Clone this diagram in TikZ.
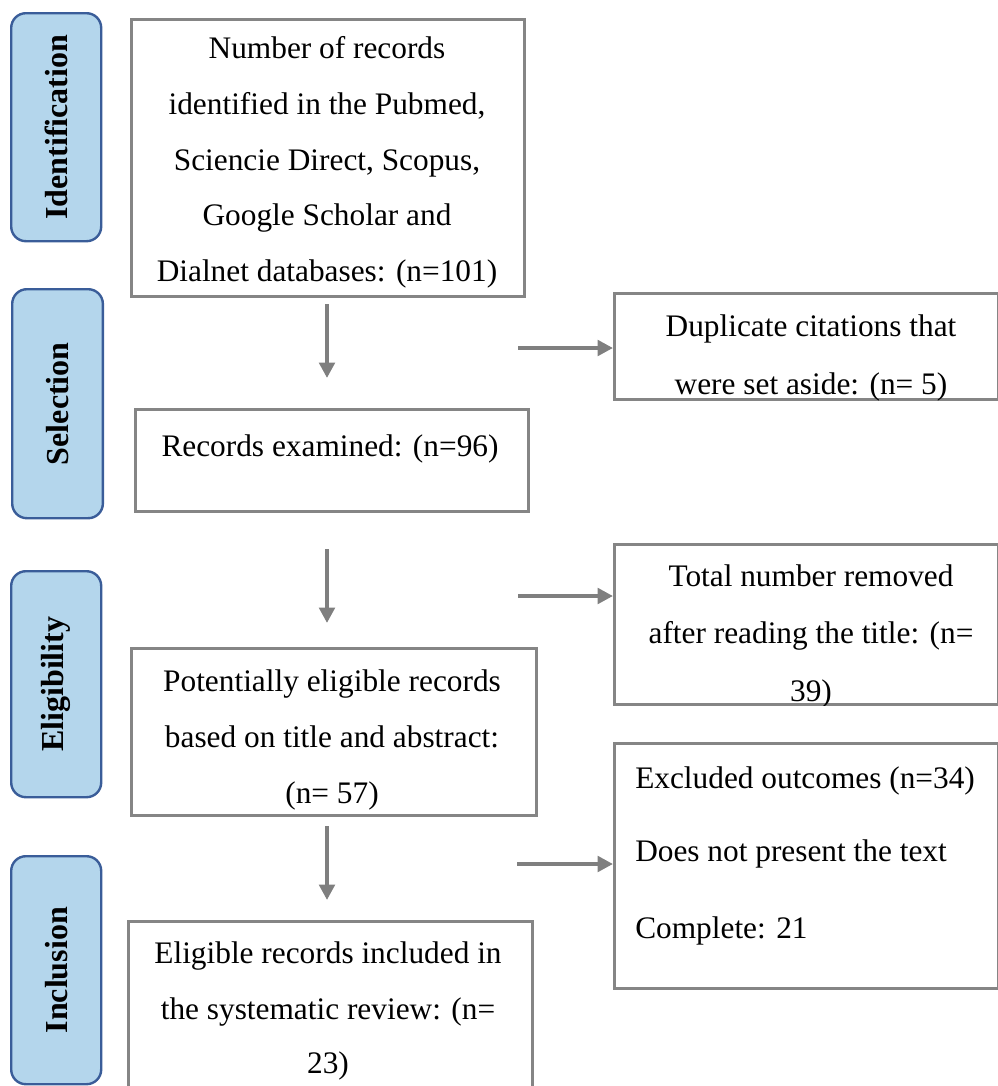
\documentclass[tikz,border=0pt]{standalone}
\usepackage{fontspec}
\setmainfont{Liberation Serif}
\usetikzlibrary{arrows.meta}
\definecolor{phasefill}{HTML}{B4D6EC}
\definecolor{phaseline}{HTML}{3A5D99}
\definecolor{boxgray}{HTML}{858585}
\definecolor{arrgray}{HTML}{7F7F7F}
\tikzset{
  phase/.style={draw=phaseline, fill=phasefill, line width=1.8pt, rounded corners=11pt, anchor=north west, inner sep=0pt},
  phaselabel/.style={rotate=90, font=\fontsize{24pt}{28pt}\selectfont\bfseries, inner sep=0pt},
  stepbox/.style={draw=boxgray, line width=2pt, anchor=north west, inner sep=0pt},
  txt/.style={font=\fontsize{23.5pt}{42pt}\selectfont, inner sep=0pt, align=center, anchor=base},
  ltxt/.style={font=\fontsize{23.5pt}{42pt}\selectfont, inner sep=0pt, align=left, anchor=base west},
  flow/.style={draw=arrgray, line width=3pt, -{Triangle[length=11.5pt, width=11.5pt]}},
}
\begin{document}
\begin{tikzpicture}[x=0.75pt, y=-0.75pt]
\useasboundingbox (0,0) rectangle (998,1086);
% phase labels
\node[phase, minimum width=67.5pt, minimum height=171pt] (ph1) at (10,12) {};
\node[phaselabel] at (ph1.center) {Identification};
\node[phase, minimum width=68pt, minimum height=171.75pt] (ph2) at (11,288) {};
\node[phaselabel] at (ph2.center) {Selection};
\node[phase, minimum width=67.5pt, minimum height=169.5pt] (ph3) at (10,570) {};
\node[phaselabel] at (ph3.center) {Eligibility};
\node[phase, minimum width=67.5pt, minimum height=171pt] (ph4) at (10,855) {};
\node[phaselabel] at (ph4.center) {Inclusion};
% main boxes
\node[stepbox, minimum width=294.75pt, minimum height=207.75pt] (b1) at (130,18) {};
\node[txt] at (327,58) {Number of records};
\node[txt] at (327,114) {identified in the Pubmed,};
\node[txt] at (327,170) {Sciencie Direct, Scopus,};
\node[txt] at (327,225) {Google Scholar and};
\node[txt] at (327,281) {Dialnet databases: (n=101)};

\node[stepbox, minimum width=294.75pt, minimum height=76.5pt] (b2) at (134,408) {};
\node[txt] at (330,456) {Records examined: (n=96)};

\node[stepbox, minimum width=303.75pt, minimum height=125.25pt] (b3) at (130,647) {};
\node[txt] at (332,691) {Potentially eligible records};
\node[txt] at (332,747) {based on title and abstract:};
\node[txt] at (332,803) {(n= 57)};

\node[stepbox, minimum width=303pt, minimum height=150pt] (b4) at (127,920) {};
\node[txt] at (328,963) {Eligible records included in};
\node[txt] at (328,1019) {the systematic review: (n=};
\node[txt] at (328,1073) {23)};

% right boxes
\node[stepbox, minimum width=288pt, minimum height=79.5pt] (r1) at (613,292) {};
\begin{scope}
\clip (r1.north west) rectangle (r1.south east);
\node[txt] at (811,336) {Duplicate citations that};
\node[txt] at (811,394) {were set aside: (n= 5)};
\end{scope}

\node[stepbox, minimum width=288pt, minimum height=120pt] (r2) at (613,543) {};
\begin{scope}
\clip (r2.north west) rectangle (r2.south east);
\node[txt] at (811,586) {Total number removed};
\node[txt] at (811,643) {after reading the title: (n=};
\node[txt] at (811,701) {39)};
\end{scope}

\node[stepbox, minimum width=288pt, minimum height=183.75pt] (r3) at (613,742) {};
\node[ltxt] at (635,788) {Excluded outcomes (n=34)};
\node[ltxt] at (635,861) {Does not present the text};
\node[ltxt] at (635,938) {Complete: 21};

% arrows
\coordinate (d1s) at (327,304); \coordinate (d1e) at (327,378);
\coordinate (d2s) at (327,549); \coordinate (d2e) at (327,623);
\coordinate (d3s) at (327,826); \coordinate (d3e) at (327,900);
\coordinate (h1s) at (518,348);
\coordinate (h2s) at (518,596);
\coordinate (h3s) at (517,864);
\draw[flow] (d1s) -- (d1e);
\draw[flow] (d2s) -- (d2e);
\draw[flow] (d3s) -- (d3e);
\draw[flow] (h1s) -- (h1s -| r1.west);
\draw[flow] (h2s) -- (h2s -| r2.west);
\draw[flow] (h3s) -- (h3s -| r3.west);
\end{tikzpicture}
\end{document}
